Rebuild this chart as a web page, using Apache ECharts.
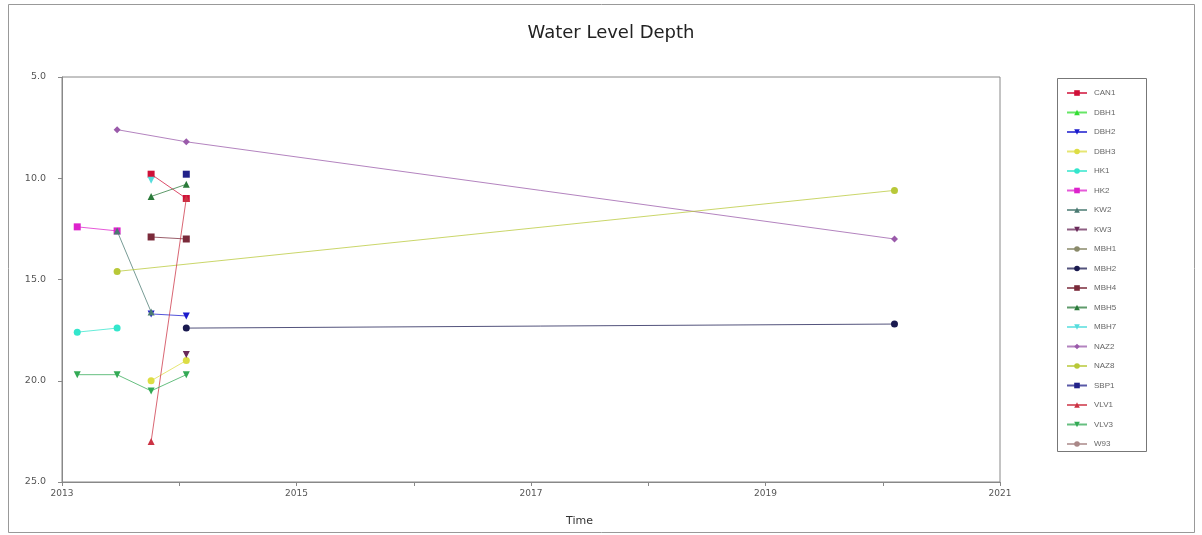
<!DOCTYPE html>
<html>
<head>
<meta charset="utf-8">
<script src="https://cdn.jsdelivr.net/npm/echarts@6/dist/echarts.min.js"></script>
<style>
  html, body { margin: 0; padding: 0; background: #fff; }
  #chart { width: 1202px; height: 535px; }
</style>
</head>
<body>
<div id="chart"></div>
<script>
// Monitoring wells: [decimal year, water level depth (m)]
const CAN1 = [[2013.76, 9.8], [2014.06, 11.0]];
const DBH1 = [];
const DBH2 = [[2013.76, 16.7], [2014.06, 16.8]];
const DBH3 = [[2013.76, 20.0], [2014.06, 19.0]];
const HK1  = [[2013.13, 17.6], [2013.47, 17.4]];
const HK2  = [[2013.13, 12.4], [2013.47, 12.6]];
const KW2  = [[2013.47, 12.6], [2013.76, 16.6]];
const KW3  = [[2014.06, 18.7]];
const MBH1 = [];
const MBH2 = [[2014.06, 17.4], [2020.10, 17.2]];
const MBH4 = [[2013.76, 12.9], [2014.06, 13.0]];
const MBH5 = [[2013.76, 10.9], [2014.06, 10.3]];
const MBH7 = [[2013.76, 10.1]];
const NAZ2 = [[2013.47, 7.6], [2014.06, 8.2], [2020.10, 13.0]];
const NAZ8 = [[2013.47, 14.6], [2020.10, 10.6]];
const SBP1 = [[2014.06, 9.8]];
const VLV1 = [[2013.76, 23.0], [2014.06, 11.0]];
const VLV3 = [[2013.13, 19.7], [2013.47, 19.7], [2013.76, 20.5], [2014.06, 19.7]];
const W93  = [];

const wellNames = ['CAN1','DBH1','DBH2','DBH3','HK1','HK2','KW2','KW3','MBH1','MBH2',
                   'MBH4','MBH5','MBH7','NAZ2','NAZ8','SBP1','VLV1','VLV3','W93'];
const wellData = [CAN1, DBH1, DBH2, DBH3, HK1, HK2, KW2, KW3, MBH1, MBH2,
                  MBH4, MBH5, MBH7, NAZ2, NAZ8, SBP1, VLV1, VLV3, W93];

const yTicks = [5, 10, 15, 20, 25];
const xLabelYears = [2013, 2015, 2017, 2019, 2021];

const DOWN = 'path://M0,0 L10,0 L5,10 Z';
// marker shape and colour per well
const styles = {
  CAN1: ['rect', '#d01038'],
  DBH1: ['triangle', '#33dd33'],
  DBH2: [DOWN, '#1a1acc'],
  DBH3: ['circle', '#dddd44'],
  HK1:  ['circle', '#33e6cc'],
  HK2:  ['rect', '#dd22cc'],
  KW2:  ['triangle', '#4a7a72'],
  KW3:  [DOWN, '#6a2a5a'],
  MBH1: ['circle', '#8a8a6a'],
  MBH2: ['circle', '#1a1a50'],
  MBH4: ['rect', '#7a2a3a'],
  MBH5: ['triangle', '#2a7a3a'],
  MBH7: [DOWN, '#55dddd'],
  NAZ2: ['diamond', '#9a5aaa'],
  NAZ8: ['circle', '#b8c838'],
  SBP1: ['rect', '#22228a'],
  VLV1: ['triangle', '#cc3344'],
  VLV3: [DOWN, '#33aa55'],
  W93:  ['circle', '#aa8888']
};

const font = 'DejaVu Sans, Verdana, sans-serif';

const series = wellNames.map((name, i) => ({
  name: name,
  type: 'line',
  data: wellData[i],
  symbol: styles[name][0],
  symbolSize: 7,
  itemStyle: { color: styles[name][1] },
  lineStyle: { width: 1, color: styles[name][1], opacity: 0.75 },
  emphasis: { disabled: true },
  animation: false
}));

const chart = echarts.init(document.getElementById('chart'));
chart.setOption({
  animation: false,
  backgroundColor: '#fff',
  title: {
    text: 'Water Level Depth',
    left: 606, top: 19, textAlign: 'center',
    textStyle: { fontFamily: font, fontWeight: 'normal', fontSize: 18, color: '#222' }
  },
  graphic: [
    { type: 'rect', shape: { x: 8.5, y: 4.5, width: 1186, height: 528 },
      style: { fill: 'none', stroke: '#999', lineWidth: 1 }, silent: true },
    { type: 'rect', shape: { x: 1057.5, y: 78.5, width: 89, height: 373 },
      style: { fill: 'none', stroke: '#777', lineWidth: 1 }, silent: true },
    { type: 'text', left: 566, top: 516, silent: true,
      style: { text: 'Time', font: '11px ' + font, fill: '#333' } }
  ],
  legend: {
    orient: 'vertical',
    left: 1061, top: 84,
    itemWidth: 20, itemHeight: 7,
    itemGap: 11.5,
    data: wellNames,
    selectedMode: false,
    textStyle: { fontFamily: 'Liberation Sans, Arial', fontSize: 8, color: '#666', padding: [0, 0, 0, 2] }
  },
  grid: {
    left: 62, right: 202, top: 77, bottom: 53,
    show: true, borderColor: '#888', borderWidth: 1
  },
  xAxis: {
    type: 'value',
    min: 2013, max: 2021, interval: 1,
    axisLine: { onZero: false, lineStyle: { color: '#888' } },
    axisTick: { show: true, length: 4, lineStyle: { color: '#888' } },
    splitLine: { show: false },
    axisLabel: {
      fontFamily: font, fontSize: 9, color: '#555', margin: 7,
      formatter: v => xLabelYears.includes(v) ? String(v) : ''
    }
  },
  yAxis: {
    type: 'value',
    inverse: true,
    min: yTicks[0], max: yTicks[yTicks.length - 1], interval: 5,
    axisLine: { show: true, lineStyle: { color: '#888' } },
    axisTick: { show: true, length: 4, lineStyle: { color: '#888' } },
    splitLine: { show: false },
    axisLabel: {
      fontFamily: font, fontSize: 9.5, color: '#555', margin: 16,
      formatter: v => v.toFixed(1)
    }
  },
  series: series
});
</script>
</body>
</html>
